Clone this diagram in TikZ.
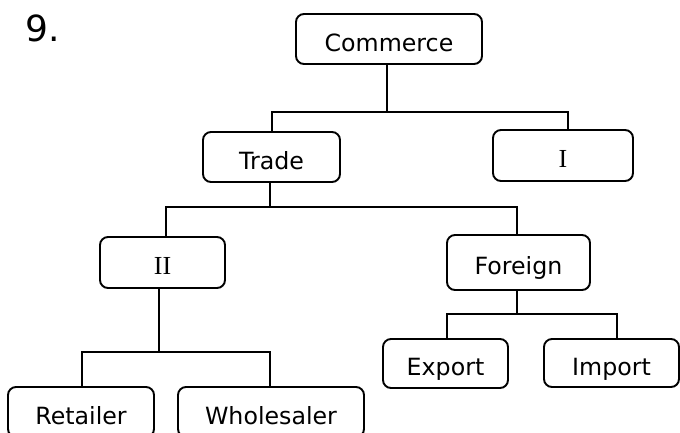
\documentclass[tikz,border=0pt]{standalone}
\usepackage{fontspec}
\setmainfont{DejaVu Sans}
\newfontfamily\romanfont{Liberation Serif}
\begin{document}
\begin{tikzpicture}[x=1pt,y=-1pt,
  box/.style={draw,line width=1.9pt,rounded corners=8pt,inner sep=0pt,
    text height=24pt,text depth=0pt,font=\fontsize{23.7}{26}\selectfont},
  rbox/.style={box,font=\romanfont\fontsize{26}{28}\selectfont},
  link/.style={line width=1.9pt}]
\useasboundingbox (0,0) rectangle (680,432);
\node[anchor=base west,inner sep=0pt,font=\fontsize{36}{40}\selectfont] (num) at (25,41) {9.};
\node[box,minimum width=186pt,minimum height=50pt] (commerce) at (389,39) {Commerce};
\node[box,minimum width=137pt,minimum height=50pt] (trade) at (271.5,157) {Trade};
\node[rbox,minimum width=140pt,minimum height=51pt] (one) at (563,155.5) {I};
\node[rbox,minimum width=125pt,minimum height=51pt] (two) at (162.5,262.5) {II};
\node[box,minimum width=143pt,minimum height=55pt] (foreign) at (518.5,262.5) {Foreign};
\node[box,minimum width=125pt,minimum height=49pt] (export) at (445.5,363.5) {Export};
\node[box,minimum width=135pt,minimum height=48pt] (import) at (611.5,363) {Import};
\node[box,minimum width=146pt,minimum height=50pt] (retailer) at (81,412) {Retailer};
\node[box,minimum width=186pt,minimum height=50pt] (wholesaler) at (271,412) {Wholesaler};
% connectors
\draw[link] ([xshift=-2pt]commerce.south) -- ++(0,47) coordinate (c1);
\draw[link] ([xshift=0.5pt]trade.north) |- (c1) -| ([xshift=5pt]one.north);
\draw[link] ([xshift=-1.5pt]trade.south) -- ++(0,24) coordinate (c2);
\draw[link] ([xshift=3.5pt]two.north) |- (c2) -| ([xshift=-1.5pt]foreign.north);
\draw[link] ([xshift=-3.5pt]two.south) -- ++(0,63) coordinate (c3);
\draw[link] ([xshift=1pt]retailer.north) |- (c3) -| ([xshift=-1pt]wholesaler.north);
\draw[link] ([xshift=-1.5pt]foreign.south) -- ++(0,23) coordinate (c4);
\draw[link] ([xshift=1.5pt]export.north) |- (c4) -| ([xshift=5.5pt]import.north);
\end{tikzpicture}
\end{document}
